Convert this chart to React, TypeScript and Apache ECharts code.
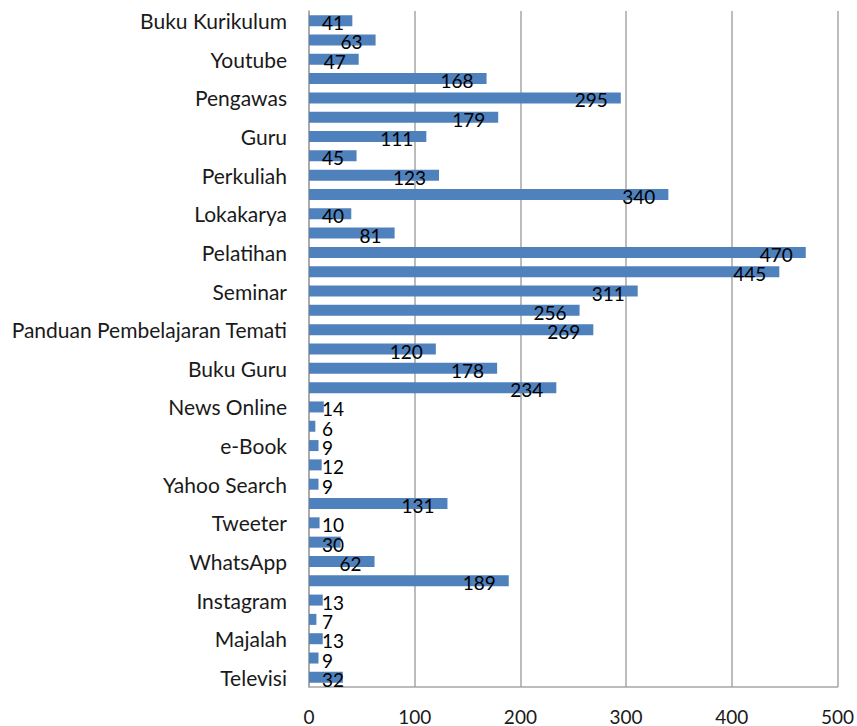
import React, { useEffect, useRef } from "react";
import * as echarts from "echarts";

const categories: string[] = [
  "Buku Kurikulum", "Kategori 2", "Youtube", "Kategori 4", "Pengawas",
  "Kategori 6", "Guru", "Kategori 8", "Perkuliah", "Kategori 10",
  "Lokakarya", "Kategori 12", "Pelatihan", "Kategori 14", "Seminar",
  "Kategori 16", "Panduan Pembelajaran Temati", "Kategori 18", "Buku Guru", "Kategori 20",
  "News Online", "Kategori 22", "e-Book", "Kategori 24", "Yahoo Search",
  "Kategori 26", "Tweeter", "Kategori 28", "WhatsApp", "Kategori 30",
  "Instagram", "Kategori 32", "Majalah", "Kategori 34", "Televisi",
];

const values: number[] = [
  41, 63, 47, 168, 295, 179, 111, 45, 123, 340,
  40, 81, 470, 445, 311, 256, 269, 120, 178, 234,
  14, 6, 9, 12, 9, 131, 10, 30, 62, 189,
  13, 7, 13, 9, 32,
];

const xTicks = { min: 0, max: 500, interval: 100 };

const FONT = "Lato";

export default function App() {
  const ref = useRef<HTMLDivElement>(null);
  useEffect(() => {
    if (!ref.current) return;
    const chart = echarts.init(ref.current, undefined, { renderer: "svg" });
    const data = values.map((v) => ({
      value: v,
      label: v < 47 ? { position: "insideLeft" as const } : { position: "insideRight" as const },
    }));
    chart.setOption({
      animation: false,
      textStyle: { fontFamily: FONT },
      grid: { left: 309, right: 18, top: 11, bottom: 39, containLabel: false },
      xAxis: {
        type: "value",
        min: xTicks.min,
        max: xTicks.max,
        interval: xTicks.interval,
        axisLine: { show: true, lineStyle: { color: "#A6A6A6", width: 1.5 } },
        axisTick: { show: false },
        splitLine: { show: true, lineStyle: { color: "#A6A6A6", width: 1.5 } },
        axisLabel: { color: "#1a1a1a", fontSize: 19, lineHeight: 16, fontFamily: FONT, margin: 21 },
      },
      yAxis: {
        type: "category",
        inverse: true,
        data: categories,
        axisLine: { show: true, lineStyle: { color: "#A6A6A6", width: 1.5 } },
        axisTick: { show: false },
        axisLabel: {
          color: "#1a1a1a",
          fontSize: 21,
          lineHeight: 18,
          fontFamily: FONT,
          margin: 22,
          interval: (index: number) => index % 2 === 0,
        },
      },
      series: [
        {
          type: "bar",
          data,
          barWidth: 11,
          itemStyle: { color: "#4F81BD" },
          label: {
            show: true,
            distance: 13,
            color: "#000",
            fontSize: 19,
            lineHeight: 15,
            fontFamily: FONT,
            offset: [0, 2],
          },
        },
      ],
    });
    return () => chart.dispose();
  }, []);
  return <div ref={ref} style={{ width: 857, height: 726, position: "absolute", left: 0, top: 0 }} />;
}
